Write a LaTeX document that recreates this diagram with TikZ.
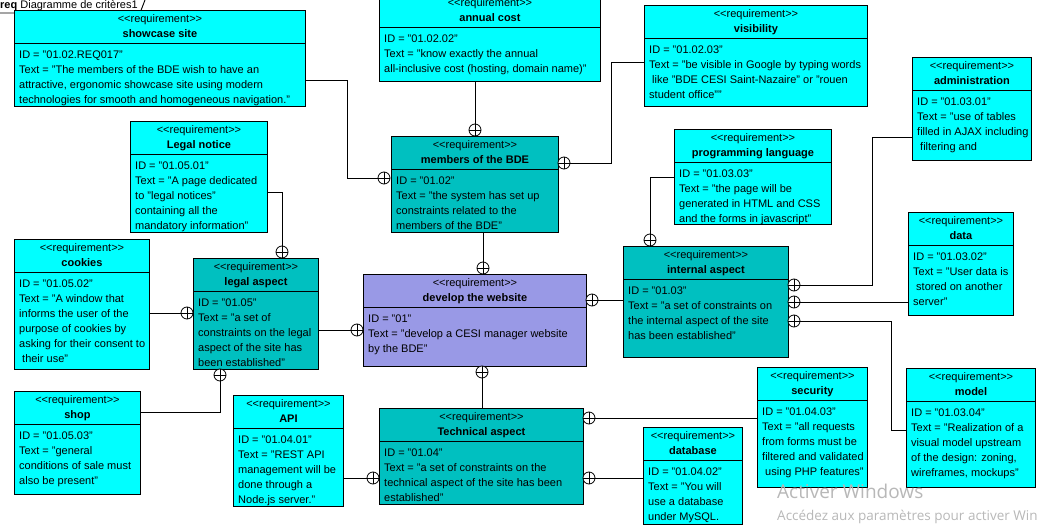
\documentclass[tikz,border=0pt]{standalone}
\usepackage{fontspec}
\setmainfont{Liberation Sans}
\newfontfamily\wmfont{Open Sans}
\definecolor{reqcyan}{RGB}{0,255,255}
\definecolor{reqteal}{RGB}{0,192,192}
\definecolor{reqlav}{RGB}{153,153,230}
\tikzset{
  rbox/.style={draw=black, line width=0.9pt, inner sep=0pt},
  rtxt/.style={inner sep=0pt, font=\fontsize{11}{15}\selectfont},
  rtitle/.style={inner sep=0pt, font=\fontsize{11}{15}\selectfont\bfseries},
  link/.style={draw=black, line width=0.9pt},
  cp/.style={circle, draw=black, line width=0.8pt, fill=white, minimum size=12pt, inner sep=0pt,
    path picture={\draw[line width=0.8pt] (path picture bounding box.north) -- (path picture bounding box.south)
      (path picture bounding box.west) -- (path picture bounding box.east);}},
  wm/.style={inner sep=0pt, text=black!28, anchor=base west}
}
% name, x, y, w, h, fill, title, body
\newcommand{\reqbox}[8]{%
  \node[rbox, fill=#6, minimum width=#4pt, minimum height=#5pt, anchor=north west] (#1) at (#2,#3) {};
  \draw[line width=0.9pt] ([yshift=-33pt]#1.north west) -- ([yshift=-33pt]#1.north east);
  \node[rtxt, anchor=base] (#1-s) at ([yshift=-13pt]#1.north) {<{}<requirement>{}>};
  \node[rtitle, anchor=base] (#1-t) at ([yshift=-28pt]#1.north) {#7};
  \node[rtxt, align=left, anchor=north west] (#1-b) at ([xshift=5pt,yshift=-41pt]#1.north west) {#8};
}
\begin{document}
\begin{tikzpicture}[x=1pt, y=-1pt]
\useasboundingbox (0,0) rectangle (1037,526);
\fill[white] (0,0) rectangle (1037,526);
\clip (0,0) rectangle (1037,526);

% frame tab
\node[inner sep=0pt, anchor=base west, font=\fontsize{11}{13}\selectfont] (frame) at (0,9) {\textbf{req} Diagramme de critères1};
\coordinate (tabA) at (0,13);
\coordinate (tabB) at (140,13);
\coordinate (tabC) at (145,0);
\draw[line width=0.9pt] (tabA) -- (tabB) -- (tabC);

% boxes
\reqbox{showcase}{14}{10}{291}{96}{reqcyan}{showcase site}{ID = "01.02.REQ017"\\Text = "The members of the BDE wish to have an\\attractive, ergonomic showcase site using modern\\technologies for smooth and homogeneous navigation."}
\reqbox{annual}{379}{-6}{221}{87}{reqcyan}{annual cost}{ID = "01.02.02"\\Text = "know exactly the annual\\all-inclusive cost (hosting, domain name)"}
\reqbox{visibility}{644}{5}{223}{101}{reqcyan}{visibility}{ID = "01.02.03"\\Text = "be visible in Google by typing words\\\hspace*{3pt}like "BDE CESI Saint-Nazaire" or "rouen\\student office""}
\reqbox{admin}{912}{57}{119}{103}{reqcyan}{administration}{ID = "01.03.01"\\Text = "use of tables\\filled in AJAX including\\\hspace*{3pt}filtering and}
\reqbox{legalnotice}{130}{121}{137}{111}{reqcyan}{Legal notice}{ID = "01.05.01"\\Text = "A page dedicated\\to "legal notices"\\containing all the\\mandatory information"}
\reqbox{members}{391}{136}{167}{96}{reqteal}{members of the BDE}{ID = "01.02"\\Text = "the system has set up\\constraints related to the\\members of the BDE"}
\reqbox{proglang}{674}{129}{157}{95}{reqcyan}{programming language}{ID = "01.03.03"\\Text = "the page will be\\generated in HTML and CSS\\and the forms in javascript"}
\reqbox{cookies}{14}{239}{135}{130}{reqcyan}{cookies}{ID = "01.05.02"\\Text = "A window that\\informs the user of the\\purpose of cookies by\\asking for their consent to\\\hspace*{3pt}their use"}
\reqbox{legal}{193}{258}{125}{111}{reqteal}{legal aspect}{ID = "01.05"\\Text = "a set of\\constraints on the legal\\aspect of the site has\\been established"}
\reqbox{develop}{363}{274}{223}{92}{reqlav}{develop the website}{ID = "01"\\Text = "develop a CESI manager website\\by the BDE"}
\reqbox{internal}{623}{246}{165}{111}{reqteal}{internal aspect}{ID = "01.03"\\Text = "a set of constraints on\\the internal aspect of the site\\has been established"}
\reqbox{data}{908}{212}{105}{103}{reqcyan}{data}{ID = "01.03.02"\\Text = "User data is\\\hspace*{3pt}stored on another\\server"}
\reqbox{shop}{14}{391}{126}{103}{reqcyan}{shop}{ID = "01.05.03"\\Text = "general\\conditions of sale must\\also be present"}
\reqbox{api}{233}{395}{110}{111}{reqcyan}{API}{ID = "01.04.01"\\Text = "REST API\\management will be\\done through a\\Node.js server."}
\reqbox{tech}{379}{408}{204}{96}{reqteal}{Technical aspect}{ID = "01.04"\\Text = "a set of constraints on the\\technical aspect of the site has been\\established"}
\reqbox{database}{643}{427}{99}{97}{reqcyan}{database}{ID = "01.04.02"\\Text = "You will\\use a database\\under MySQL.}
\reqbox{security}{757}{367}{110}{120}{reqcyan}{security}{ID = "01.04.03"\\Text = "all requests\\from forms must be\\filtered and validated\\\hspace*{3pt}using PHP features"}
\reqbox{model}{906}{368}{129}{119}{reqcyan}{model}{ID = "01.03.04"\\Text = "Realization of a\\visual model upstream\\of the design: zoning,\\wireframes, mockups"}

% containment circles
\node[cp] (c1) at (384,178) {};
\node[cp] (c2) at (475,130) {};
\node[cp] (c3) at (564,163) {};
\node[cp] (c4) at (483,268) {};
\node[cp] (c5) at (282,252) {};
\node[cp] (c6) at (187,313) {};
\node[cp] (c7) at (357,330) {};
\node[cp] (c8) at (220,375) {};
\node[cp] (c9) at (592,300) {};
\node[cp] (c10) at (650,240) {};
\node[cp] (c11) at (794,285) {};
\node[cp] (c12) at (794,302) {};
\node[cp] (c13) at (794,321) {};
\node[cp] (c14) at (482,372) {};
\node[cp] (c15) at (589,418) {};
\node[cp] (c16) at (589,478) {};
\node[cp] (c17) at (373,478) {};

% connectors
\draw[link] (showcase.east |- 0,80) -- ++(42,0) |- (c1.west);
\draw[link] (annual.south -| c2) -- (c2.north);
\draw[link] (visibility.west |- 0,62) -- ++(-33,0) |- (c3.east);
\draw[link] (members.south -| c4) -- (c4.north);
\draw[link] (legalnotice.east |- 0,192) -| (c5.north);
\draw[link] (cookies.east |- c6) -- (c6.west);
\draw[link] (legal.east |- c7) -- (c7.west);
\draw[link] (shop.east |- 0,412) -| (c8.south);
\draw[link] (internal.west |- c9) -- (c9.east);
\draw[link] (proglang.west |- 0,177) -| (c10.north);
\draw[link] (admin.west |- 0,137) -- ++(-40,0) |- (c11.east);
\draw[link] (data.west |- c12) -- (c12.east);
\draw[link] (model.west |- 0,430) -- ++(-15,0) |- (c13.east);
\draw[link] (tech.north -| c14) -- (c14.south);
\draw[link] (security.west |- c15) -- (c15.east);
\draw[link] (database.west |- c16) -- (c16.east);
\draw[link] (api.east |- c17) -- (c17.west);

% watermark
\node[wm, font=\wmfont\fontsize{19}{22}\selectfont] (wm1) at (777,499) {Activer Windows};
\node[wm, font=\wmfont\fontsize{13.5}{16}\selectfont] (wm2) at (777,521) {Accédez aux paramètres pour activer Windows};
\end{tikzpicture}
\end{document}
